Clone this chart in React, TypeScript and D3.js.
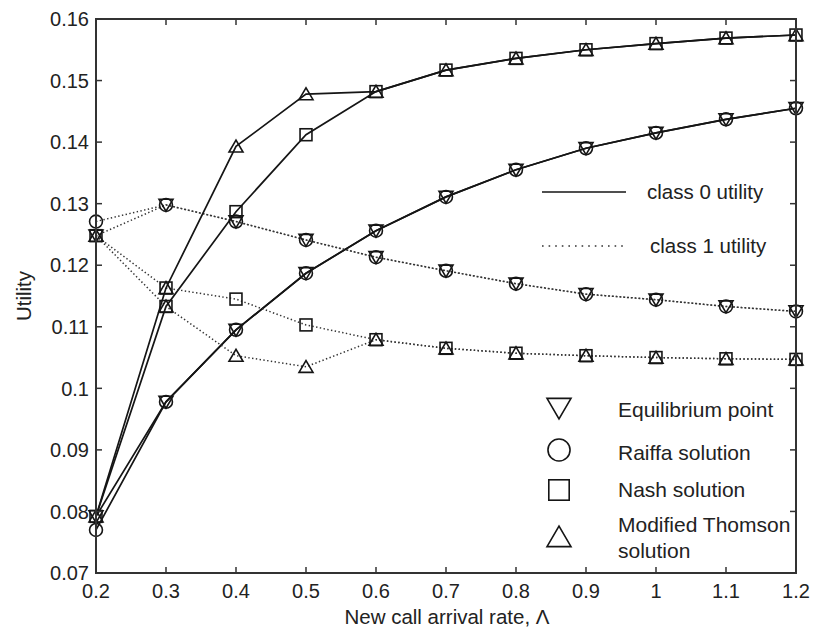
import React from "react";
import * as d3 from "d3";

// New call arrival rate (x axis)
const lambda = [0.2, 0.3, 0.4, 0.5, 0.6, 0.7, 0.8, 0.9, 1.0, 1.1, 1.2];

// Utility per solution concept, class 0 and class 1
const equilibrium0 = [0.0792, 0.0978, 0.1095, 0.1187, 0.1256, 0.1311, 0.1355, 0.139, 0.1415, 0.1437, 0.1455];
const equilibrium1 = [0.1248, 0.1298, 0.1271, 0.1241, 0.1213, 0.1191, 0.117, 0.1153, 0.1144, 0.1133, 0.1125];
const raiffa0 = [0.077, 0.0978, 0.1095, 0.1187, 0.1256, 0.1311, 0.1355, 0.139, 0.1415, 0.1437, 0.1455];
const raiffa1 = [0.1271, 0.1298, 0.1271, 0.1241, 0.1213, 0.1191, 0.117, 0.1153, 0.1144, 0.1133, 0.1125];
const nash0 = [0.0792, 0.1133, 0.1287, 0.1412, 0.1482, 0.1517, 0.1536, 0.155, 0.156, 0.1569, 0.1574];
const nash1 = [0.1248, 0.1163, 0.1145, 0.1103, 0.1079, 0.1065, 0.1057, 0.1053, 0.105, 0.1048, 0.1047];
const thomson0 = [0.0792, 0.1163, 0.1393, 0.1478, 0.1482, 0.1517, 0.1536, 0.155, 0.156, 0.1569, 0.1574];
const thomson1 = [0.1248, 0.1133, 0.1053, 0.1035, 0.1079, 0.1065, 0.1057, 0.1053, 0.105, 0.1048, 0.1047];

const xTicks = [0.2, 0.3, 0.4, 0.5, 0.6, 0.7, 0.8, 0.9, 1, 1.1, 1.2];
const yTicks = [0.07, 0.08, 0.09, 0.1, 0.11, 0.12, 0.13, 0.14, 0.15, 0.16];

type MarkerKind = "down" | "circle" | "square" | "up";

const series: { values: number[]; cls: 0 | 1; marker: MarkerKind }[] = [
  { values: equilibrium0, cls: 0, marker: "down" },
  { values: equilibrium1, cls: 1, marker: "down" },
  { values: raiffa0, cls: 0, marker: "circle" },
  { values: raiffa1, cls: 1, marker: "circle" },
  { values: nash0, cls: 0, marker: "square" },
  { values: nash1, cls: 1, marker: "square" },
  { values: thomson0, cls: 0, marker: "up" },
  { values: thomson1, cls: 1, marker: "up" },
];

const markerLegend: { marker: MarkerKind; lines: string[] }[] = [
  { marker: "down", lines: ["Equilibrium point"] },
  { marker: "circle", lines: ["Raiffa solution"] },
  { marker: "square", lines: ["Nash solution"] },
  { marker: "up", lines: ["Modified Thomson", "solution"] },
];

const FONT = "'Liberation Sans', Arial, Helvetica, sans-serif";
const INK = "#151515";

function Marker({ kind, cx, cy, s }: { kind: MarkerKind; cx: number; cy: number; s: number }) {
  const h = s / 2;
  const common = { fill: "none", stroke: INK, strokeWidth: 1.6 };
  if (kind === "circle") return <circle cx={cx} cy={cy} r={h * 0.92} {...common} />;
  if (kind === "square")
    return <rect x={cx - h * 0.85} y={cy - h * 0.85} width={h * 1.7} height={h * 1.7} {...common} />;
  if (kind === "down")
    return (
      <path
        d={`M${cx - h},${cy - h * 0.8}L${cx + h},${cy - h * 0.8}L${cx},${cy + h * 0.9}Z`}
        {...common}
      />
    );
  return (
    <path
      d={`M${cx - h},${cy + h * 0.8}L${cx + h},${cy + h * 0.8}L${cx},${cy - h * 0.9}Z`}
      {...common}
    />
  );
}

export default function App() {
  const left = 96;
  const right = 796;
  const top = 19;
  const bottom = 573;

  const x = d3.scaleLinear().domain([0.2, 1.2]).range([left, right]);
  const y = d3.scaleLinear().domain([0.07, 0.16]).range([bottom, top]);

  const line = d3
    .line<number>()
    .x((_, i) => x(lambda[i]))
    .y((v) => y(v));

  const tickLen = 6;

  return (
    <svg
      width={815}
      height={631}
      style={{ position: "absolute", left: 0, top: 0, background: "#fff" }}
      fontFamily={FONT}
    >
      <rect x={0} y={0} width={815} height={631} fill="#fff" />

      {/* data lines */}
      {series.map((s, i) => (
        <path
          key={`l${i}`}
          d={line(s.values) ?? ""}
          fill="none"
          stroke={s.cls === 0 ? INK : "#333"}
          strokeWidth={s.cls === 0 ? 1.7 : 1.5}
          strokeDasharray={s.cls === 0 ? undefined : "1.4 2.4"}
        />
      ))}

      {/* markers */}
      {series.map((s, i) =>
        s.values.map((v, j) => (
          <Marker key={`m${i}-${j}`} kind={s.marker} cx={x(lambda[j])} cy={y(v)} s={14} />
        ))
      )}

      {/* frame */}
      <rect
        x={left}
        y={top}
        width={right - left}
        height={bottom - top}
        fill="none"
        stroke="#333"
        strokeWidth={2}
      />

      {/* x ticks */}
      {xTicks.map((t) => (
        <g key={`xt${t}`}>
          <line x1={x(t)} x2={x(t)} y1={bottom} y2={bottom - tickLen} stroke="#333" strokeWidth={1.5} />
          <line x1={x(t)} x2={x(t)} y1={top} y2={top + tickLen} stroke="#333" strokeWidth={1.5} />
          <text x={x(t)} y={598} textAnchor="middle" fontSize={20} fill="#222">
            {d3.format("~g")(t)}
          </text>
        </g>
      ))}

      {/* y ticks */}
      {yTicks.map((t) => (
        <g key={`yt${t}`}>
          <line x1={left} x2={left + tickLen} y1={y(t)} y2={y(t)} stroke="#333" strokeWidth={1.5} />
          <line x1={right} x2={right - tickLen} y1={y(t)} y2={y(t)} stroke="#333" strokeWidth={1.5} />
          <text x={89} y={y(t)} dy="0.36em" textAnchor="end" fontSize={20} fill="#222">
            {d3.format("~g")(t)}
          </text>
        </g>
      ))}

      {/* axis titles */}
      <text x={447} y={624} textAnchor="middle" fontSize={20.5} fill="#222">
        New call arrival rate, Λ
      </text>
      <text
        transform={`translate(31,${(top + bottom) / 2}) rotate(-90)`}
        textAnchor="middle"
        fontSize={20.5}
        fill="#222"
      >
        Utility
      </text>

      {/* line style legend */}
      <line x1={542} x2={626} y1={192} y2={192} stroke={INK} strokeWidth={1.7} />
      <text x={647} y={199} fontSize={20.5} fill="#222">
        class 0 utility
      </text>
      <line x1={542} x2={627} y1={246} y2={246} stroke="#333" strokeWidth={1.7} strokeDasharray="1.6 5" />
      <text x={650} y={253} fontSize={20.5} fill="#222">
        class 1 utility
      </text>

      {/* marker legend */}
      {markerLegend.map((m, i) => {
        const cy = [408, 450, 490, 537][i];
        const ty = [417, 460, 497, 532][i];
        return (
          <g key={`lg${i}`}>
            <Marker kind={m.marker} cx={559} cy={cy} s={24} />
            {m.lines.map((txt, k) => (
              <text key={k} x={618} y={ty + k * 26} fontSize={21} fill="#222">
                {txt}
              </text>
            ))}
          </g>
        );
      })}
    </svg>
  );
}
